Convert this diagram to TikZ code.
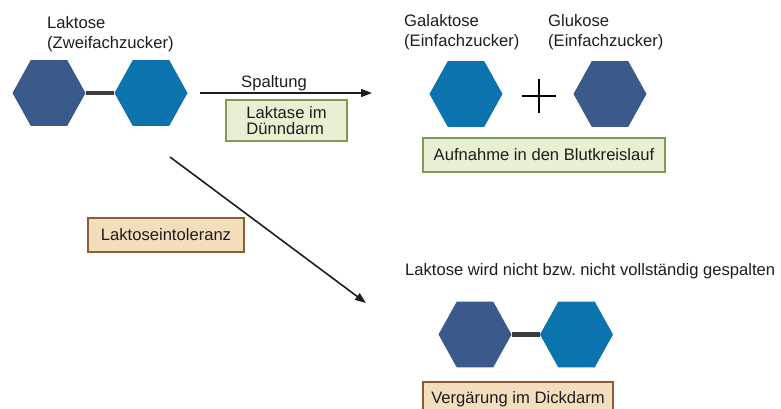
\documentclass[tikz,border=0pt]{standalone}
\usepackage{fontspec}
\setmainfont{Liberation Sans}
\usepackage{xcolor}
\usepackage{tikz}
\usetikzlibrary{shapes.geometric}
\usetikzlibrary{arrows.meta,positioning, calc}
\frenchspacing
\definecolor{hexdark}{HTML}{3A5A8C}
\definecolor{hexlight}{HTML}{0B74AE}
\definecolor{bondgray}{HTML}{3C3C3C}
\definecolor{textgray}{HTML}{1E1E1E}
\definecolor{greenfill}{HTML}{E7F0D3}
\definecolor{greenline}{HTML}{7E9C56}
\definecolor{tanfill}{HTML}{F3DDBD}
\definecolor{tanline}{HTML}{8E5C34}
\tikzstyle{hexa}=[regular polygon,regular polygon sides=6,
  minimum size=73pt,inner sep=0pt,yscale=1.04]
\tikzstyle{darkhex}=[hexa,fill=hexdark]
\tikzstyle{lighthex}=[hexa,fill=hexlight]
\tikzstyle{bond}=[draw=bondgray,line width=4.5pt]
\tikzstyle{flow}=[draw=textgray,line width=1.6pt,-{Triangle[length=11pt,width=8pt]}]
\tikzstyle{lbl}=[align=left,inner sep=0pt,anchor=north west]
\tikzstyle{greenbox}=[draw=greenline,fill=greenfill,line width=1.8pt,
  inner sep=0pt,align=left]
\tikzstyle{tanbox}=[draw=tanline,fill=tanfill,line width=1.8pt,
  inner sep=0pt]

\begin{document}
\begin{tikzpicture}[x=1pt,y=-1pt,text=textgray,
  font=\fontsize{16.6}{20}\selectfont]
  \clip (0,0) rectangle (781,408);
  \fill[white] (0,0) rectangle (781,408);
  % Laktose oben links
  \node[lbl] (laktose) at (47,16) {Laktose\\(Zweifachzucker)};
  \node[darkhex] (lak1) at (49,93) {};
  \node[lighthex] (lak2) at (151,93) {};
  \draw[bond] (lak1) -- (lak2);
  % Spaltung
  \coordinate (spaltA) at (200,93);
  \coordinate (spaltB) at (372,93);
  \draw[flow] (spaltA) -- (spaltB);
  \node[inner sep=0pt,anchor=base] (spaltung) at (274,87) {Spaltung};
  \node[greenbox,minimum width=121pt,minimum height=41pt,
    font=\fontsize{16.6}{16.5}\selectfont] (laktase) at (286.5,120.5)
    {Laktase im\\D\"unndarm};
  % Einfachzucker
  \node[lbl] (galaktose) at (404,14) {Galaktose\\(Einfachzucker)};
  \node[lbl] (glukose) at (548,14) {Glukose\\(Einfachzucker)};
  \node[lighthex] (gal) at (466,94) {};
  \node[darkhex] (glu) at (610,94) {};
  \coordinate (plus) at (539,96);
  \draw[line width=1.2pt] ($(plus)+(-17,0)$) -- ($(plus)+(17,0)$)
    ($(plus)+(0,-17)$) -- ($(plus)+(0,17)$);
  \node[greenbox,minimum width=242pt,minimum height=34pt] (blut)
    at (544,155) {Aufnahme in den Blutkreislauf};
  % Laktoseintoleranz
  \coordinate (intA) at (170,157);
  \coordinate (intB) at (366,303);
  \draw[flow] (intA) -- (intB);
  \node[tanbox,minimum width=156pt,minimum height=34pt] (intol)
    at (166,235) {Laktoseintoleranz};
  \node[inner sep=0pt,anchor=base west] (nicht) at (405,275)
    {Laktose wird nicht bzw.\ nicht vollst\"andig gespalten};
  \node[darkhex] (rest1) at (475,334.5) {};
  \node[lighthex] (rest2) at (576.5,334.5) {};
  \draw[bond] (rest1) -- (rest2);
  \node[tanbox,minimum width=190pt,minimum height=34pt] (dick)
    at (518,399) {Verg\"arung im Dickdarm};
\end{tikzpicture}
\end{document}
